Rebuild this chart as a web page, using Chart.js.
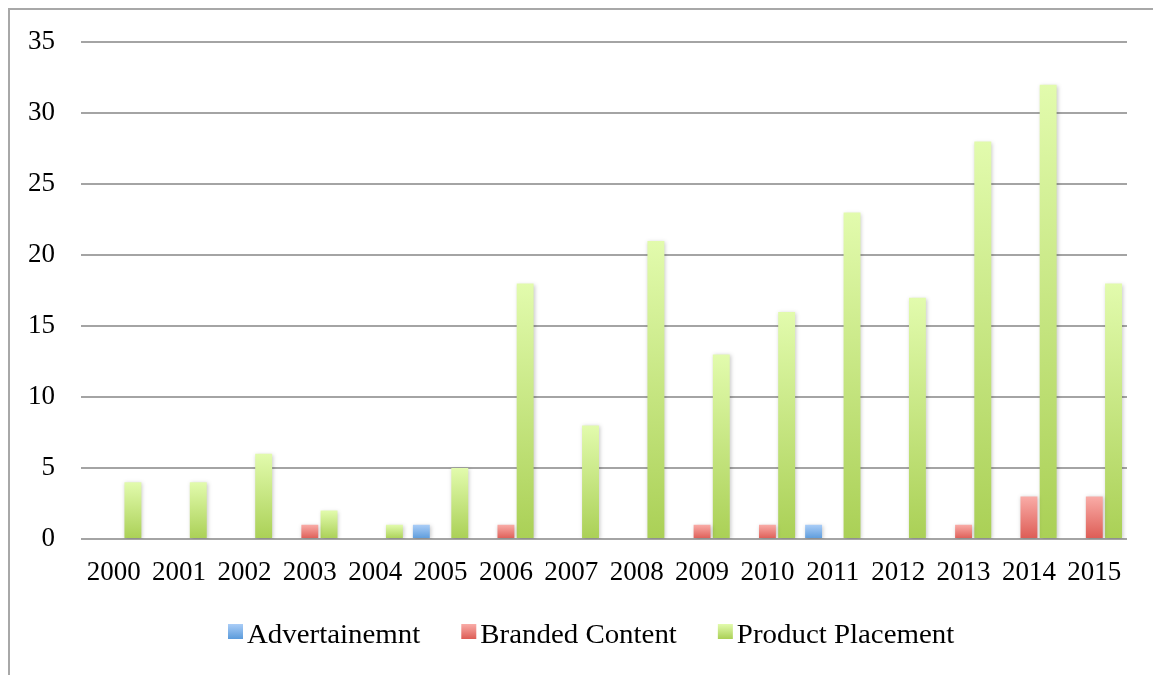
<!DOCTYPE html>
<html>
<head>
<meta charset="utf-8">
<script src="https://cdn.jsdelivr.net/npm/chart.js@4.4.1/dist/chart.umd.min.js"></script>
<style>
  html, body { margin: 0; padding: 0; background: #fff; }
  #wrap { position: relative; width: 1153px; height: 675px; overflow: hidden; }
  #frame { position: absolute; left: 8px; top: 8px; width: 1200px; height: 700px;
           border-left: 2px solid #a8a8a8; border-top: 2px solid #a8a8a8; }
  canvas { position: absolute; left: 0; top: 0; }
</style>
</head>
<body>
<div id="wrap">
  <div id="frame"></div>
  <canvas id="chart" width="1153" height="675"></canvas>
</div>
<script>
const years = ["2000", "2001", "2002", "2003", "2004", "2005", "2006", "2007",
  "2008", "2009", "2010", "2011", "2012", "2013", "2014", "2015"];
const advertainment = [0, 0, 0, 0, 0, 1, 0, 0, 0, 0, 0, 1, 0, 0, 0, 0];
const brandedContent = [0, 0, 0, 1, 0, 0, 1, 0, 0, 1, 1, 0, 0, 1, 3, 3];
const productPlacement = [4, 4, 6, 2, 1, 5, 18, 8, 21, 13, 16, 23, 17, 28, 32, 18];
const seriesNames = ["Advertainemnt", "Branded Content", "Product Placement"];

// light top -> darker bottom, like the office gradient fill
const fills = [
  ["#aacdf7", "#5b9bdb"],
  ["#f9aca7", "#dd5c55"],
  ["#e2fbad", "#aad056"],
];

const tickFont = { family: "'Liberation Serif', serif", size: 27 };

function barGradient(idx) {
  return function (ctx) {
    const chart = ctx.chart;
    if (!chart.chartArea || ctx.type !== "data" || !ctx.raw) return fills[idx][1];
    const y = chart.scales.y;
    const top = y.getPixelForValue(ctx.raw);
    const bottom = y.getPixelForValue(0);
    const g = chart.ctx.createLinearGradient(0, top, 0, bottom);
    g.addColorStop(0, fills[idx][0]);
    g.addColorStop(1, fills[idx][1]);
    return g;
  };
}

// soft drop shadow under bars
const barShadow = {
  id: "barShadow",
  beforeDatasetsDraw(chart) {
    const c = chart.ctx;
    c.save();
    c.shadowColor = "rgba(0,0,0,0.22)";
    c.shadowBlur = 4;
    c.shadowOffsetX = 1;
    c.shadowOffsetY = 1;
  },
  afterDatasetsDraw(chart) {
    chart.ctx.restore();
  },
};

// legend drawn by hand so it sits where the original one does;
// text is stretched a little to mimic the wider face
const bottomLegend = {
  id: "bottomLegend",
  afterDraw(chart) {
    const c = chart.ctx;
    const stretch = 1.07;
    c.save();
    c.font = "27px 'Liberation Serif', serif";
    c.textBaseline = "alphabetic";
    let x = 228;
    chart.data.datasets.forEach((ds, i) => {
      const g = c.createLinearGradient(0, 624, 0, 639);
      g.addColorStop(0, fills[i][0]);
      g.addColorStop(1, fills[i][1]);
      c.fillStyle = g;
      c.fillRect(x, 624, 15, 15);
      c.fillStyle = "#000";
      c.save();
      c.translate(x + 19, 643);
      c.scale(stretch, 1);
      c.fillText(ds.label, 0, 0);
      c.restore();
      x += 19 + c.measureText(ds.label).width * stretch + 41;
    });
    c.restore();
  },
};

const data = {
  labels: years,
  datasets: [advertainment, brandedContent, productPlacement].map((vals, i) => ({
    label: seriesNames[i],
    data: vals,
    backgroundColor: barGradient(i),
    borderWidth: 0,
    categoryPercentage: 0.882,
    barPercentage: 0.88,
  })),
};

new Chart(document.getElementById("chart"), {
  type: "bar",
  data,
  plugins: [barShadow, bottomLegend],
  options: {
    responsive: false,
    animation: false,
    devicePixelRatio: 1,
    layout: { padding: { top: 42, right: 26, bottom: 0, left: 0 } },
    plugins: {
      legend: { display: false },
      tooltip: { enabled: false },
    },
    scales: {
      x: {
        grid: { display: false, drawTicks: false },
        border: { display: false },
        ticks: { font: tickFont, color: "#000", padding: 18, maxRotation: 0 },
        afterFit(scale) { scale.height = 136; },
      },
      y: {
        min: 0,
        max: 35,
        ticks: { stepSize: 5, font: tickFont, color: "#000", padding: 26 },
        grid: { color: "#a4a4a4", lineWidth: 2, drawTicks: false },
        border: { display: false },
        afterFit(scale) { scale.width = 81; },
      },
    },
  },
});
</script>
</body>
</html>
